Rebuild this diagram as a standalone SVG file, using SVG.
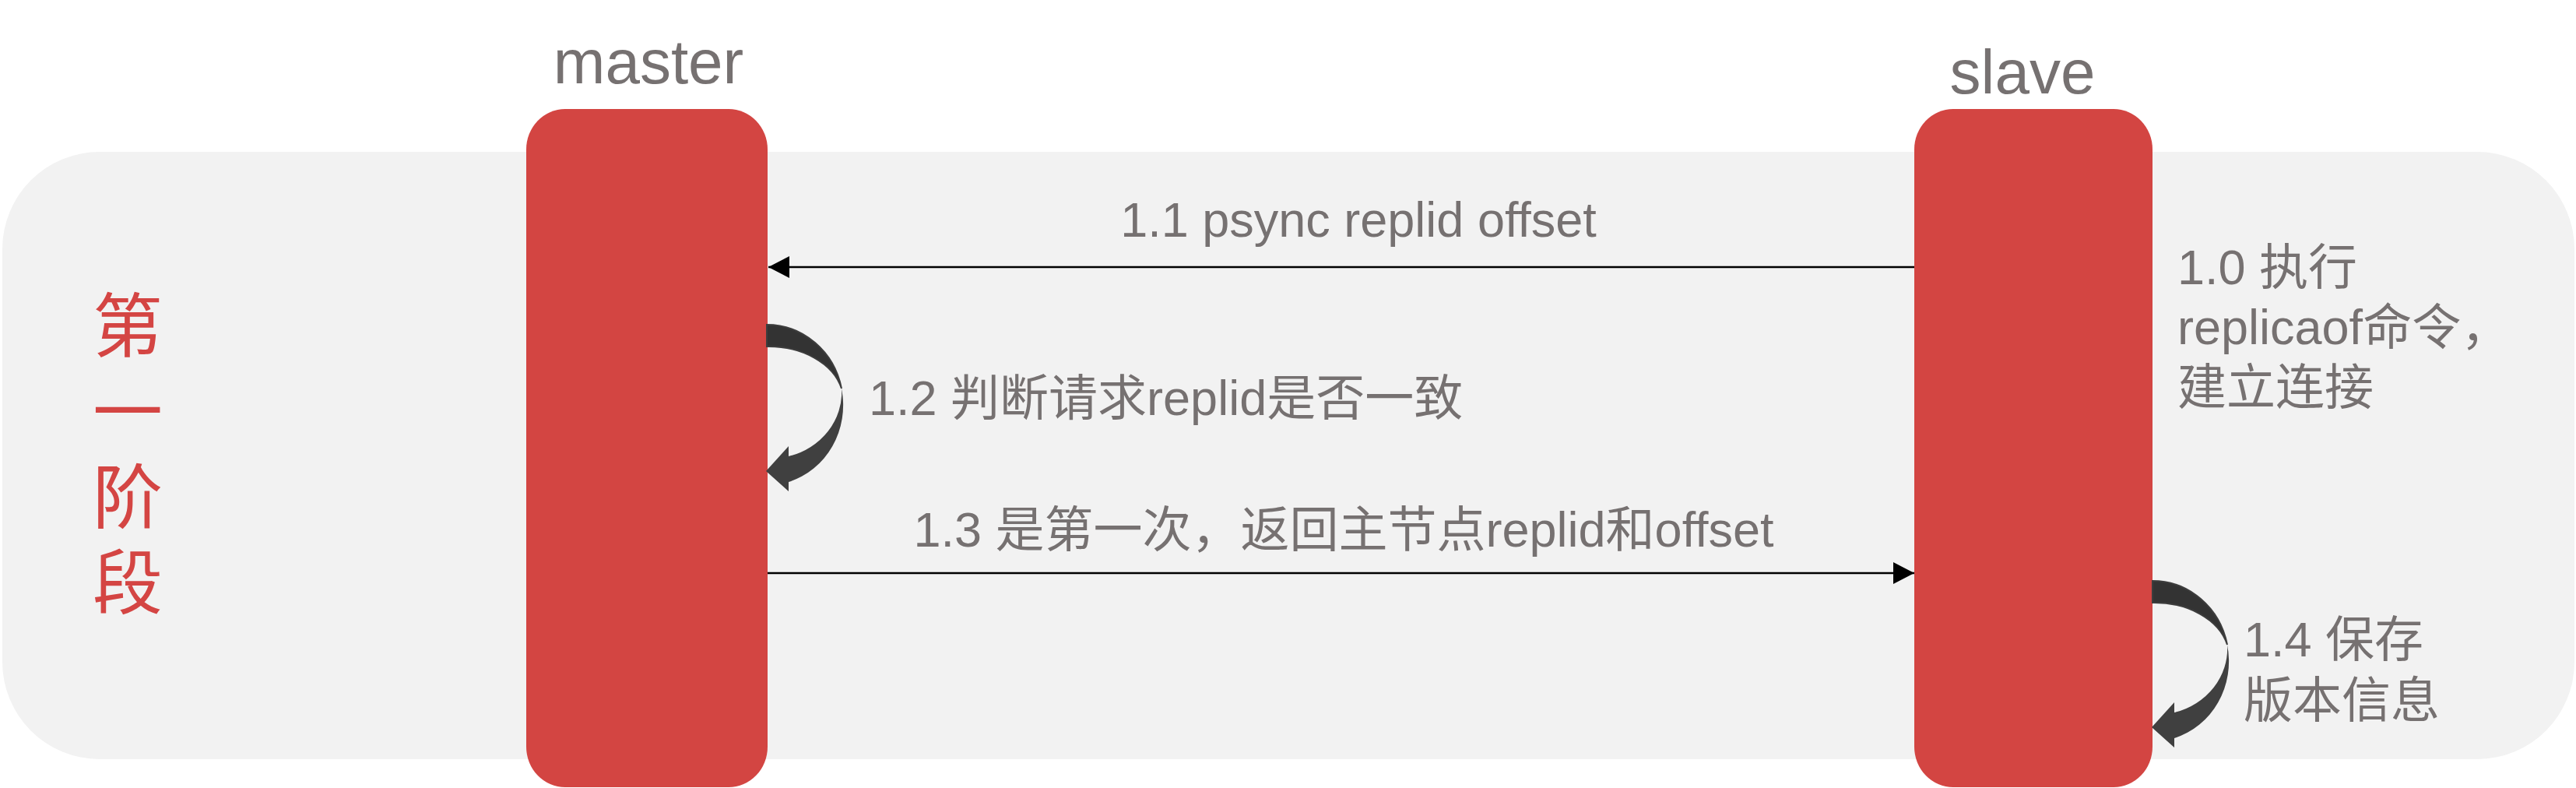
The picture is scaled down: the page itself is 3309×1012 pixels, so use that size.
<svg xmlns="http://www.w3.org/2000/svg" xmlns:xlink="http://www.w3.org/1999/xlink" width="3309" height="1012" viewBox="0 0 3309 1012">
<style>
  .txt{font-family:"Liberation Sans","Noto Sans CJK SC",sans-serif;fill:#767171;font-size:63px}
  .title{font-size:80px}
  .bar{fill:#D34542}
  .stage{font-family:"Noto Sans CJK SC",sans-serif;fill:#D44543;font-size:90px;writing-mode:vertical-rl;letter-spacing:20px}
  .msg{stroke:#000;stroke-width:2.5;fill:none}
  .loopBack{fill:#333333;stroke:#3d3d3d;stroke-width:2}
  .loopFront{fill:#404040}
</style>
<defs>
  <marker id="arrow" viewBox="0 0 27 28" refX="27" refY="14" markerWidth="27" markerHeight="28" markerUnits="userSpaceOnUse" orient="auto">
    <path d="M0,0 L27,14 L0,28 Z" fill="#000"/>
  </marker>
  <g id="selfloop">
    <path class="loopBack" d="M0,0 A98,103 0 0 1 96,82 A96,70 0 0 0 0,28 Z"/>
    <path class="loopFront" d="M96,82 A98,103 0 0 1 28,202 L28,214 L-1,188 L28,156 L28,169 A92,85 0 0 0 96,82 Z"/>
  </g>
</defs>

<rect x="3" y="195" width="3304" height="780" rx="125" ry="125" fill="#F2F2F2"/>

<g id="stage-label">
  <text class="stage" x="164" y="372">第一阶段</text>
</g>

<g id="master">
  <rect class="bar" x="676" y="140" width="310" height="871" rx="50" ry="52"/>
  <text class="txt title" x="833" y="107" text-anchor="middle">master</text>
</g>

<g id="slave">
  <rect class="bar" x="2459" y="140" width="306" height="871" rx="50" ry="52"/>
  <text class="txt title" x="2598" y="120" text-anchor="middle">slave</text>
</g>

<g id="connectors">
  <line class="msg" x1="2459" y1="343" x2="987" y2="343" marker-end="url(#arrow)"/>
  <line class="msg" x1="986" y1="736" x2="2459" y2="736" marker-end="url(#arrow)"/>
  <use xlink:href="#selfloop" href="#selfloop" transform="translate(985,417)"/>
  <use xlink:href="#selfloop" href="#selfloop" transform="translate(2765,746)"/>
</g>

<g id="labels" class="txt">
  <text x="1745" y="304" text-anchor="middle">1.1 psync replid offset</text>
  <text x="1116" y="533">1.2 判断请求replid是否一致</text>
  <text x="1726" y="702" text-anchor="middle">1.3 是第一次，返回主节点replid和offset</text>
  <text x="2797" y="365">1.0 执行</text>
  <text x="2797" y="442">replicaof命令，</text>
  <text x="2797" y="519">建立连接</text>
  <text x="2882" y="843">1.4 保存</text>
  <text x="2882" y="921">版本信息</text>
</g>
</svg>
